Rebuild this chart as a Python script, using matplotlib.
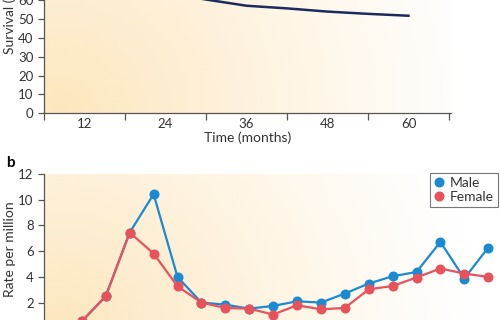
import numpy as np
import matplotlib
matplotlib.use("Agg")
import matplotlib.pyplot as plt
from matplotlib.lines import Line2D
from matplotlib.colors import to_rgb

plt.rcParams['font.family'] = ['Lato', 'DejaVu Sans']

# ---- data ----
surv_months = [24, 30, 36, 42, 48, 54, 60]
surv_pct = [63.7, 60.3, 57.0, 55.6, 53.9, 52.7, 51.7]
time_ticks = [12, 24, 36, 48, 60]

age_idx = list(range(1, 19))
male = [0.55, 2.5, 7.45, 10.43, 3.99, 2.0, 1.84, 1.53, 1.74, 2.1, 2.0, 2.7,
        3.48, 4.05, 4.38, 6.72, 3.87, 6.28]
female = [0.55, 2.51, 7.45, 5.81, 3.27, 2.0, 1.58, 1.53, 1.07, 1.79, 1.48, 1.58,
          3.03, 3.29, 3.95, 4.65, 4.26, 3.99]

W, H = 500, 320
fig = plt.figure(figsize=(W / 100, H / 100), dpi=100)

TXT = '#333333'
SP = '#555555'
BLUE = '#1A8AD2'
RED = '#E8525A'
NAVY = '#1B2B5E'
CREAM = to_rgb('#FDE2B2')


def px_axes(l, t, r, b):
    return [l / W, (H - b) / H, (r - l) / W, (b - t) / H]


def add_gradient(ax, l, t, r, b, cx, cy, R, amax=0.85):
    nx, ny = 200, 200
    xs = np.linspace(l, r, nx)
    ys = np.linspace(b, t, ny)  # bottom to top
    X, Y = np.meshgrid(xs, ys)
    d = np.hypot(X - cx, Y - cy)
    a = np.clip(1 - d / R, 0, 1) ** 1.2 * amax
    img = np.zeros((ny, nx, 4))
    img[..., 0], img[..., 1], img[..., 2] = CREAM
    img[..., 3] = a
    ax.imshow(img, extent=[0, 1, 0, 1], transform=ax.transAxes, origin='lower',
              aspect='auto', zorder=0, interpolation='bilinear')


def style_axes(ax):
    for s in ['top', 'right']:
        ax.spines[s].set_visible(False)
    for s in ['left', 'bottom']:
        ax.spines[s].set_color(SP)
        ax.spines[s].set_linewidth(0.9)
    ax.tick_params(colors=SP, labelcolor=TXT, labelsize=9.5, length=4, width=0.9)


# ---- panel a ----
pxa = (44, -75.4, 451, 113.3)
ax1 = fig.add_axes(px_axes(*pxa))
ax1.set_xlim(6, 66.3)
ax1.set_ylim(0, 100)
add_gradient(ax1, *pxa, cx=60, cy=113, R=440)
ax1.plot(surv_months, surv_pct, color=NAVY, lw=1.8, zorder=3)
style_axes(ax1)
ax1.set_yticks(range(0, 61, 10))
ax1.set_xticks([6, 18, 30, 42, 54, 66])
ax1.set_xticklabels([])
ax1.set_xticks(time_ticks, minor=True)
ax1.set_xticklabels([str(t) for t in time_ticks], minor=True)
ax1.tick_params(axis='x', which='minor', length=0, pad=3.5, labelsize=9.5,
                labelcolor=TXT)
ax1.tick_params(axis='x', which='major', length=5)
fig.text(248 / W, (H - 138) / H, 'Time (months)', ha='center', va='center',
         fontsize=10, color=TXT)
fig.text(10 / W, (H - 19) / H, 'Survival (%)', ha='center', va='center',
         rotation=90, fontsize=10, color=TXT)

# ---- panel b ----
x_left, x_right = -0.586, 19.5
pxb = (44, 174, 44 + (x_right - x_left) * 23.9, 328.3)
ax2 = fig.add_axes(px_axes(*pxb))
ax2.set_xlim(x_left, x_right)
ax2.set_ylim(0, 12)
add_gradient(ax2, *pxb, cx=60, cy=335, R=420)
ax2.plot(age_idx, male, color=BLUE, lw=1.6, marker='o', ms=6.2, zorder=3,
         label='Male')
ax2.plot(age_idx, female, color=RED, lw=1.6, marker='o', ms=6.2, zorder=4,
         label='Female')
style_axes(ax2)
ax2.spines['bottom'].set_visible(False)
ax2.set_xticks([])
ax2.set_yticks(range(2, 13, 2))
fig.text(10 / W, (H - 249) / H, 'Rate per million', ha='center', va='center',
         rotation=90, fontsize=10, color=TXT)
fig.text(6 / W, (H - 163) / H, 'b', ha='left', va='center', fontsize=11,
         fontweight='bold', color='black')

handles = [Line2D([], [], ls='none', marker='o', ms=6.2, color=BLUE),
           Line2D([], [], ls='none', marker='o', ms=6.2, color=RED)]
leg = fig.legend(handles, ['Male', 'Female'], loc='upper right',
                 bbox_to_anchor=(498 / W, (H - 173) / H),
                 bbox_transform=fig.transFigure, borderaxespad=0,
                 fancybox=False, edgecolor='#777777', framealpha=1,
                 fontsize=10, handlelength=0.6, handletextpad=0.5,
                 borderpad=0.3, labelspacing=0.15)
leg.get_frame().set_linewidth(0.8)
for t in leg.get_texts():
    t.set_color(TXT)

fig.savefig('out.png', dpi=100)
